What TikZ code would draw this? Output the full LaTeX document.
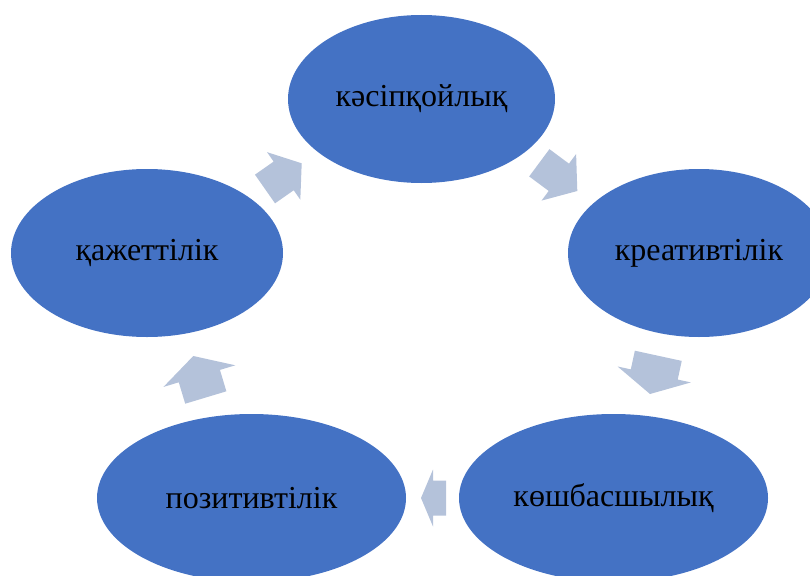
\documentclass[tikz,border=0pt]{standalone}
\usepackage{fontspec}
\setmainfont{Liberation Serif}
\usetikzlibrary{shapes.geometric, calc}

\definecolor{ovalblue}{HTML}{4472C4}
\definecolor{arrowgray}{RGB}{180,194,218}

\tikzset{
  oval/.style = {ellipse, fill=ovalblue, inner sep=0pt, minimum height=168pt,
                 font=\fontsize{32}{38}\selectfont},
  cyclearrow/.style = {fill=arrowgray}
}

% block arrow: tail, tip, half shaft, half head, head length
\newcommand{\blockarrow}[5]{
  \coordinate (hb) at ($(#2)!#5!(#1)$);
  \fill[cyclearrow] ($(#1)!#3!90:(#2)$) -- ($(hb)!#3!90:(#2)$)
    -- ($(hb)!#4!90:(#2)$) -- (#2) -- ($(hb)!#4!-90:(#2)$)
    -- ($(hb)!#3!-90:(#2)$) -- ($(#1)!#3!-90:(#2)$) -- cycle;
}

\begin{document}
\begin{tikzpicture}[x=1pt, y=-1pt]
    \useasboundingbox (0, 0) rectangle (810, 575);
    \clip (0, 0) rectangle (810, 575);

    \node [oval, minimum width=267pt] (kasip)  at (421.5, 99) {кәсіпқойлық};
    \node [oval, minimum width=262pt] (kreat)  at (699, 253)  {креативтілік};
    \node [oval, minimum width=309pt] (kosh)   at (613.5, 498) {көшбасшылық};
    \node [oval, minimum width=309pt] (pozit)  at (251.5, 498) {позитивтілік};
    \node [oval, minimum width=272pt] (kazhet) at (147, 253)  {қажеттілік};

    % arrows of the cycle
    \coordinate (a1s) at (265, 189);     \coordinate (a1e) at (301.7, 163.3);
    \coordinate (a2s) at (539.3, 162.8); \coordinate (a2e) at (577.3, 191);
    \coordinate (a3s) at (658.3, 355.8); \coordinate (a3e) at (650, 394);
    \coordinate (a4s) at (446, 498);     \coordinate (a4e) at (421, 498);
    \coordinate (a5s) at (205.8, 397.5); \coordinate (a5e) at (193.3, 356);

    \blockarrow{a1s}{a1e}{17.5pt}{29pt}{22pt}
    \blockarrow{a2s}{a2e}{17pt}{29pt}{23pt}
    \blockarrow{a3s}{a3e}{24pt}{37.5pt}{20pt}
    \blockarrow{a4s}{a4e}{17.5pt}{28.5pt}{12pt}
    \blockarrow{a5s}{a5e}{21.5pt}{37.5pt}{21pt}
\end{tikzpicture}
\end{document}
